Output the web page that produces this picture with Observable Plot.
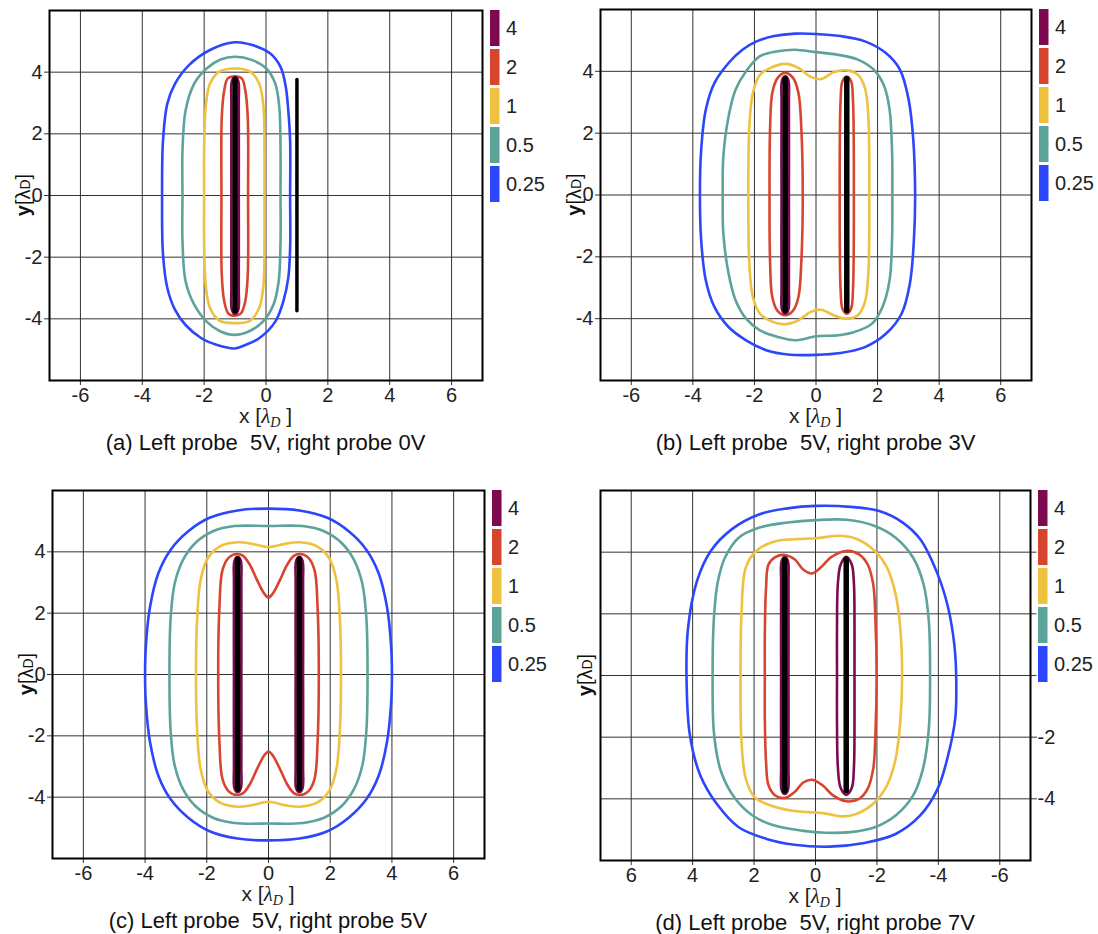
<!DOCTYPE html>
<html><head><meta charset="utf-8">
<script src="https://cdn.jsdelivr.net/npm/d3@7"></script>
<script src="https://cdn.jsdelivr.net/npm/@observablehq/plot@0.6"></script>
<style>
html,body{margin:0;padding:0;background:#fff;}
#wrap{position:relative;width:1098px;height:934px;overflow:hidden;background:#fff;}
.panel{position:absolute;width:549px;height:467px;}
</style></head><body><div id="wrap"></div>
<script>
// ---------- data ----------
const levels = [4, 2, 1, 0.5, 0.25];
const levelColors = ["#7d0a50", "#d8452f", "#eec13f", "#5ca39a", "#2b46fb"];
const xTicks = [-6, -4, -2, 0, 2, 4, 6];
const yTicks = [-4, -2, 0, 2, 4];
const captions = [
  "(a) Left probe  5V, right probe 0V",
  "(b) Left probe  5V, right probe 3V",
  "(c) Left probe  5V, right probe 5V",
  "(d) Left probe  5V, right probe 7V"
];
const probeHalfLength = 3.75;
const probeXabc = [-1, 1];   // left, right probe positions (panels a-c)
const probeXd = [1, -1];     // panel d (reversed x axis)
const leftVolts = [5, 5, 5, 5];
const rightVolts = [0, 3, 5, 7];

// panel (a) contours
const aBlue = [[-1.01,4.97],[-0.44,4.88],[0.13,4.61],[0.47,4.17],[0.64,3.52],[0.72,2.76],[0.78,1.78],[0.78,0],[0.78,-1.70],[0.72,-2.67],[0.56,-3.43],[0.30,-4.09],[-0.22,-4.63],[-0.67,-4.85],[-1.01,-4.96],[-1.58,-4.85],[-2.09,-4.63],[-2.60,-4.20],[-2.94,-3.71],[-3.19,-3.0],[-3.33,-1.91],[-3.36,0],[-3.33,1.78],[-3.19,2.98],[-2.94,3.63],[-2.49,4.23],[-1.81,4.72]];
const aTeal = [[-1.01,4.5],[-0.44,4.39],[0.01,4.12],[0.30,3.63],[0.43,2.87],[0.47,1.46],[0.47,0],[0.47,-1.48],[0.41,-2.78],[0.24,-3.54],[-0.10,-4.09],[-0.56,-4.41],[-1.01,-4.52],[-1.47,-4.41],[-1.92,-4.09],[-2.32,-3.54],[-2.60,-2.78],[-2.70,-1.48],[-2.70,0],[-2.70,1.46],[-2.60,2.76],[-2.32,3.63],[-1.92,4.12],[-1.47,4.41]];
const aYellow = [[-1.01,4.12],[-0.5,4.01],[-0.22,3.63],[-0.08,2.87],[-0.05,1.46],[-0.05,0],[-0.05,-1.48],[-0.08,-2.89],[-0.22,-3.65],[-0.53,-4.07],[-1.01,-4.14],[-1.49,-4.07],[-1.81,-3.65],[-1.95,-2.89],[-2.0,-1.48],[-2.0,0],[-2.0,1.46],[-1.95,2.87],[-1.81,3.63],[-1.52,4.01]];
const aRed = [[-1.01,3.87],[-0.78,3.79],[-0.67,3.41],[-0.59,2.54],[-0.58,0],[-0.59,-2.57],[-0.67,-3.43],[-0.81,-3.82],[-1.01,-3.9],[-1.22,-3.82],[-1.35,-3.43],[-1.43,-2.57],[-1.44,0],[-1.43,2.54],[-1.35,3.41],[-1.24,3.79]];
const aPurple = [[-1.0,3.84],[-0.9,3.72],[-0.88,3.0],[-0.88,0],[-0.88,-3.0],[-0.9,-3.72],[-1.0,-3.84],[-1.1,-3.72],[-1.12,-3.0],[-1.12,0],[-1.12,3.0],[-1.1,3.72]];

// panel (b) contours
const bBlue = [[-1.93,4.97],[-1.36,5.14],[-0.68,5.22],[0,5.21],[0.80,5.14],[1.59,4.97],[2.27,4.59],[2.73,4.05],[3.01,3.08],[3.16,1.78],[3.22,0],[3.18,-1.46],[3.05,-2.86],[2.78,-3.84],[2.27,-4.49],[1.59,-4.92],[0.80,-5.11],[0,-5.17],[-0.91,-5.16],[-1.59,-5.03],[-2.27,-4.70],[-2.84,-4.27],[-3.30,-3.62],[-3.58,-2.76],[-3.73,-1.46],[-3.77,0],[-3.73,1.46],[-3.58,2.76],[-3.30,3.62],[-2.84,4.27],[-2.39,4.70]];
const bTeal = [[-1.82,4.49],[-1.25,4.65],[-0.68,4.70],[0,4.62],[0.68,4.54],[1.36,4.38],[1.88,4.05],[2.22,3.51],[2.39,2.76],[2.47,1.46],[2.48,0],[2.47,-1.46],[2.39,-2.76],[2.16,-3.62],[1.82,-4.16],[1.25,-4.43],[0.68,-4.54],[0,-4.57],[-0.68,-4.70],[-1.25,-4.59],[-1.82,-4.38],[-2.27,-4.0],[-2.61,-3.41],[-2.84,-2.54],[-3.01,-1.24],[-3.03,0],[-3.01,1.24],[-2.84,2.54],[-2.61,3.41],[-2.27,4.0]];
const bYellow = [[-1.82,3.89],[-1.48,4.11],[-1.0,4.24],[-0.57,4.11],[-0.17,3.82],[0.17,3.75],[0.57,3.97],[1.0,4.03],[1.36,3.89],[1.59,3.46],[1.70,2.54],[1.73,1.24],[1.73,0],[1.73,-1.24],[1.70,-2.54],[1.59,-3.46],[1.36,-3.89],[1.0,-4.0],[0.57,-3.89],[0.17,-3.71],[-0.17,-3.78],[-0.57,-4.05],[-1.0,-4.18],[-1.48,-4.07],[-1.82,-3.84],[-2.05,-3.30],[-2.16,-2.32],[-2.20,0],[-2.16,2.32],[-2.05,3.30]];
const bRedL = [[-1,3.95],[-0.74,3.78],[-0.57,3.30],[-0.48,2.22],[-0.43,0],[-0.48,-2.22],[-0.57,-3.30],[-0.74,-3.73],[-1,-3.89],[-1.25,-3.75],[-1.42,-3.30],[-1.49,-2.22],[-1.51,0],[-1.49,2.22],[-1.42,3.30],[-1.25,3.78]];
const bRedR = [[1,3.82],[1.14,3.68],[1.20,3.08],[1.23,0],[1.20,-3.08],[1.14,-3.68],[1,-3.84],[0.86,-3.68],[0.80,-3.08],[0.77,0],[0.80,3.08],[0.86,3.68]];
const bPurple = [[-1.0,3.84],[-0.9,3.72],[-0.88,3.0],[-0.88,0],[-0.88,-3.0],[-0.9,-3.72],[-1.0,-3.84],[-1.1,-3.72],[-1.12,-3.0],[-1.12,0],[-1.12,3.0],[-1.1,3.72]];

// panel (c) contours
const cBlue = [[0,5.41],[1.0,5.35],[1.91,5.11],[2.60,4.67],[3.17,4.07],[3.57,3.30],[3.84,2.20],[3.97,0.99],[4.0,0],[3.97,-0.99],[3.84,-2.20],[3.57,-3.30],[3.17,-4.07],[2.60,-4.67],[1.91,-5.11],[1.0,-5.35],[0,-5.41],[-1.0,-5.35],[-1.91,-5.11],[-2.60,-4.67],[-3.17,-4.07],[-3.57,-3.30],[-3.84,-2.20],[-3.97,-0.99],[-4.0,0],[-3.97,0.99],[-3.84,2.20],[-3.57,3.30],[-3.17,4.07],[-2.60,4.67],[-1.91,5.11],[-1.0,5.35]];
const cTeal = [[0,4.84],[1.11,4.84],[1.80,4.67],[2.37,4.29],[2.77,3.74],[3.04,2.97],[3.17,1.87],[3.21,0],[3.17,-1.87],[3.04,-2.97],[2.77,-3.74],[2.37,-4.29],[1.80,-4.67],[1.11,-4.84],[0,-4.86],[-1.11,-4.84],[-1.80,-4.67],[-2.37,-4.29],[-2.77,-3.74],[-3.04,-2.97],[-3.17,-1.87],[-3.21,0],[-3.17,1.87],[-3.04,2.97],[-2.77,3.74],[-2.37,4.29],[-1.80,4.67],[-1.11,4.84]];
const cYellow = [[0,4.15],[0.54,4.26],[1.0,4.31],[1.57,4.18],[1.97,3.79],[2.20,3.08],[2.31,1.87],[2.35,0],[2.31,-1.87],[2.20,-3.08],[1.97,-3.79],[1.57,-4.18],[1.0,-4.31],[0.54,-4.26],[0,-4.15],[-0.54,-4.26],[-1.0,-4.31],[-1.57,-4.18],[-1.97,-3.79],[-2.20,-3.08],[-2.31,-1.87],[-2.35,0],[-2.31,1.87],[-2.20,3.08],[-1.97,3.79],[-1.57,4.18],[-1.0,4.31],[-0.54,4.26]];
const cRed = [[0,2.51],[0.14,2.64],[0.37,3.08],[0.60,3.57],[0.82,3.87],[1.02,3.93],[1.28,3.82],[1.49,3.41],[1.59,2.20],[1.63,0],[1.59,-2.20],[1.49,-3.41],[1.28,-3.82],[1.02,-3.93],[0.82,-3.87],[0.60,-3.57],[0.37,-3.08],[0.14,-2.64],[0,-2.51],[-0.14,-2.64],[-0.37,-3.08],[-0.60,-3.57],[-0.82,-3.87],[-1.02,-3.93],[-1.28,-3.82],[-1.49,-3.41],[-1.59,-2.20],[-1.63,0],[-1.59,2.20],[-1.49,3.41],[-1.28,3.82],[-1.02,3.93],[-0.82,3.87],[-0.60,3.57],[-0.37,3.08],[-0.14,2.64]];
const cPurpleL = [[-1.0,3.84],[-0.9,3.72],[-0.88,3.0],[-0.88,0],[-0.88,-3.0],[-0.9,-3.72],[-1.0,-3.84],[-1.1,-3.72],[-1.12,-3.0],[-1.12,0],[-1.12,3.0],[-1.1,3.72]];
const cPurpleR = [[1.0,3.84],[1.1,3.72],[1.12,3.0],[1.12,0],[1.12,-3.0],[1.1,-3.72],[1.0,-3.84],[0.9,-3.72],[0.88,-3.0],[0.88,0],[0.88,3.0],[0.9,3.72]];

// panel (d) contours (x axis reversed)
const dBlue = [[3.86,3.06],[3.41,4.04],[2.73,4.74],[1.82,5.23],[0.91,5.42],[0,5.50],[-1.14,5.47],[-2.05,5.34],[-2.84,4.96],[-3.41,4.42],[-3.98,3.28],[-4.32,2.19],[-4.52,1.0],[-4.58,0],[-4.55,-1.39],[-4.32,-2.58],[-3.98,-3.67],[-3.41,-4.54],[-2.61,-5.14],[-1.59,-5.43],[-0.45,-5.55],[0.68,-5.49],[1.59,-5.30],[2.5,-4.92],[3.18,-4.21],[3.75,-3.24],[4.09,-1.93],[4.2,0],[4.15,1.54]];
const dTeal = [[2.95,3.82],[2.5,4.47],[1.82,4.80],[0.91,4.96],[0,5.04],[-1.02,5.05],[-1.93,4.85],[-2.61,4.47],[-3.18,3.82],[-3.52,2.95],[-3.69,1.76],[-3.73,0],[-3.69,-1.72],[-3.5,-3.02],[-3.18,-3.89],[-2.61,-4.54],[-1.93,-4.92],[-1.14,-5.08],[-0.34,-5.10],[0.45,-5.03],[1.36,-4.86],[2.05,-4.54],[2.61,-4.0],[3.07,-3.13],[3.30,-1.93],[3.35,0],[3.30,1.98],[3.18,3.04]];
const dYellow = [[2.27,3.50],[1.93,4.04],[1.36,4.34],[0.68,4.42],[0,4.45],[-0.80,4.53],[-1.36,4.42],[-1.93,4.04],[-2.33,3.50],[-2.61,2.63],[-2.76,1.54],[-2.82,0],[-2.76,-1.50],[-2.61,-2.69],[-2.33,-3.56],[-1.88,-4.16],[-1.36,-4.48],[-0.91,-4.57],[-0.34,-4.48],[0.23,-4.43],[0.80,-4.38],[1.48,-4.21],[1.99,-3.94],[2.27,-3.34],[2.41,-2.15],[2.44,0],[2.41,1.98]];
const dRed = [[1.53,3.60],[1.31,3.84],[1.0,3.91],[0.68,3.77],[0.40,3.44],[0.11,3.31],[-0.17,3.50],[-0.51,3.84],[-1.0,4.04],[-1.42,3.93],[-1.70,3.60],[-1.88,2.95],[-1.95,1.87],[-1.99,0],[-1.95,-1.93],[-1.88,-3.02],[-1.70,-3.67],[-1.42,-4.0],[-1.0,-4.08],[-0.57,-3.89],[-0.23,-3.56],[0.11,-3.38],[0.40,-3.47],[0.68,-3.78],[1.0,-3.97],[1.31,-3.89],[1.53,-3.56],[1.61,-2.80],[1.65,-1.39],[1.65,0],[1.65,1.32],[1.61,2.84]];
const dPurpleR = [[-1,3.85],[-1.18,3.6],[-1.25,3.0],[-1.27,1.5],[-1.27,0],[-1.27,-1.5],[-1.25,-3.0],[-1.18,-3.65],[-1,-3.87],[-0.82,-3.65],[-0.73,-3.0],[-0.70,-1.5],[-0.70,0],[-0.70,1.5],[-0.73,3.0],[-0.82,3.6]];
const dPurpleL = [[1.0,3.84],[1.1,3.72],[1.12,3.0],[1.12,0],[1.12,-3.0],[1.1,-3.72],[1.0,-3.84],[0.9,-3.72],[0.88,-3.0],[0.88,0],[0.88,3.0],[0.9,3.72]];

// ---------- drawing ----------
const FONT = "'Liberation Sans', Arial, sans-serif";
const SERIF = "'Liberation Serif', 'DejaVu Serif', serif";
const fmt = d => (d < 0 ? "-" + Math.abs(d) : String(d));

// which contour loops belong to which level (index into levels)
const panelContours = [
  [[aBlue,4],[aTeal,3],[aYellow,2],[aRed,1],[aPurple,0]],
  [[bBlue,4],[bTeal,3],[bYellow,2],[bRedL,1],[bRedR,1],[bPurple,0]],
  [[cBlue,4],[cTeal,3],[cYellow,2],[cRed,1],[cPurpleL,0],[cPurpleR,0]],
  [[dBlue,4],[dTeal,3],[dYellow,2],[dRed,1],[dPurpleR,0],[dPurpleL,0]]
];
const panelProbeX = [probeXabc, probeXabc, probeXabc, probeXd];

const layout = [
  {left:0,   top:0,   mL:49, mR:67, mT:10, mB:87, rev:false, yAxis:"left",  yLabX:23},
  {left:549, top:0,   mL:51, mR:67, mT:9,  mB:87, rev:false, yAxis:"left",  yLabX:25},
  {left:0,   top:467, mL:52, mR:65, mT:23, mB:76, rev:false, yAxis:"left",  yLabX:26},
  {left:549, top:467, mL:51, mR:68, mT:23, mB:74, rev:true,  yAxis:"right", yLabX:36}
];

const wrap = document.getElementById("wrap");

layout.forEach((L, i) => {
  const probes = panelProbeX[i].map((x, k) => ({x, v: k === 0 ? leftVolts[i] : rightVolts[i]}));
  const marks = [
    Plot.gridX(xTicks, {stroke: "#333", strokeOpacity: 1, strokeWidth: 1}),
    Plot.gridY(yTicks, {stroke: "#333", strokeOpacity: 1, strokeWidth: 1}),
    Plot.axisX(xTicks, {anchor: "bottom", tickSize: 5, tickPadding: 2, tickFormat: fmt, stroke: "#333", fontSize: 20}),
    Plot.axisY(yTicks, {anchor: L.yAxis, tickSize: L.yAxis === "right" ? 6 : 5,
      tickPadding: L.yAxis === "right" ? 1 : 2, tickFormat: fmt, stroke: "#333", fontSize: 20}),
    ...panelContours[i].map(([pts, li]) => Plot.line(pts, {
      x: d => d[0], y: d => d[1], stroke: levelColors[li], strokeWidth: 2.6,
      curve: "catmull-rom-closed"
    })),
    ...probes.map(p => Plot.ruleX([p], {
      x: "x", y1: -probeHalfLength, y2: probeHalfLength, stroke: "black",
      strokeWidth: p.v === 0 ? 3.5 : 5.5, strokeLinecap: "round"
    })),
    Plot.frame({stroke: "black", strokeWidth: 2})
  ];
  const svg = Plot.plot({
    width: 549, height: 467,
    marginLeft: L.mL, marginRight: L.mR, marginTop: L.mT, marginBottom: L.mB,
    x: {domain: L.rev ? [7, -7] : [-7, 7], label: null},
    y: {domain: [-6, 6], label: null},
    style: {fontFamily: FONT, fontSize: "20px", color: "#222", background: "white", overflow: "visible"},
    marks
  });
  const div = document.createElement("div");
  div.className = "panel";
  div.style.left = L.left + "px";
  div.style.top = L.top + "px";
  div.appendChild(svg);
  wrap.appendChild(div);

  const s = d3.select(svg);
  const fl = L.mL, fr = 549 - L.mR, ft = L.mT, fb = 467 - L.mB, cx = (fl + fr) / 2;

  // colour bar (legend) with white backing
  const g = s.append("g").attr("text-anchor", "start");
  g.append("rect").attr("x", fr + 6.5).attr("y", ft - 2).attr("width", 549 - fr - 6.5).attr("height", 5 * 39 + 2).attr("fill", "white");
  levels.forEach((lv, k) => {
    g.append("rect").attr("x", fr + 8).attr("y", ft + k * 39).attr("width", 9.5).attr("height", 36).attr("fill", levelColors[k]);
    g.append("text").attr("x", fr + 24).attr("y", ft + k * 39 + 18).attr("dy", "0.36em").attr("text-anchor", "start")
      .attr("fill", "#222").style("font-size", "20px").style("font-family", FONT).text(String(lv));
  });

  // y label
  const yl = s.append("text")
    .attr("transform", `translate(${L.yLabX},${(ft + fb) / 2}) rotate(-90)`)
    .attr("text-anchor", "middle").attr("dy", "0.35em")
    .attr("fill", "#111").style("font-size", "20px").style("font-family", FONT);
  yl.append("tspan").style("font-weight", "bold").text("y");
  yl.append("tspan").text("[λ");
  yl.append("tspan").style("font-size", "14px").text("D");
  yl.append("tspan").text("]");

  // x label
  const xl = s.append("text").attr("x", cx).attr("y", fb + 36).attr("text-anchor", "middle").attr("dy", "0.35em")
    .attr("fill", "#222").style("font-size", "21px").style("font-family", FONT);
  xl.append("tspan").text("x [");
  xl.append("tspan").style("font-family", SERIF).style("font-style", "italic").text("λ");
  xl.append("tspan").attr("dy", 4).style("font-family", SERIF).style("font-style", "italic").style("font-size", "14px").text("D");
  xl.append("tspan").attr("dy", -4).text(" ]");

  // caption
  s.append("text").attr("x", cx).attr("y", fb + 62).attr("text-anchor", "middle").attr("dy", "0.35em")
    .attr("fill", "#111").style("font-size", "22px").style("font-family", FONT).text(captions[i]);
});
</script>
</body></html>
